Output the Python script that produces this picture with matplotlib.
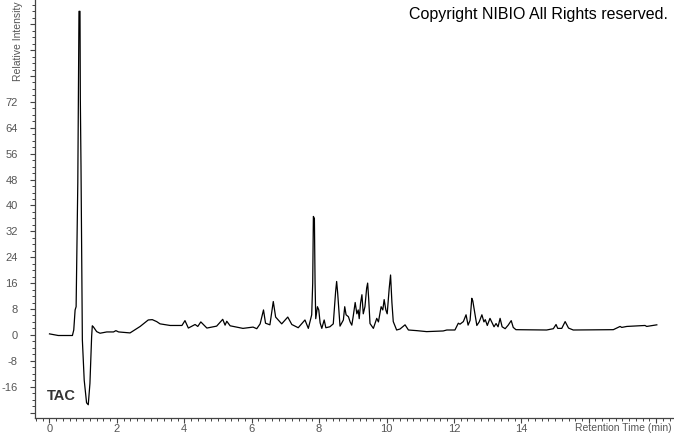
import matplotlib.pyplot as plt
from matplotlib.ticker import MultipleLocator, FixedLocator, FixedFormatter

# retention time (min) and relative intensity
rt = [0.00, 0.26, 0.68, 0.72, 0.76, 0.79, 0.84, 0.875, 0.905, 0.915, 0.935, 0.975,
      1.03, 1.10, 1.15, 1.20, 1.25, 1.27, 1.30, 1.40, 1.50, 1.70, 1.90, 1.97, 2.05,
      2.39, 2.69, 2.93, 3.05, 3.18, 3.28, 3.58, 3.93, 4.02, 4.12, 4.32, 4.40, 4.49,
      4.67, 4.96, 5.14, 5.21, 5.26, 5.36, 5.74, 6.04, 6.15, 6.25, 6.35, 6.41, 6.54,
      6.64, 6.71, 6.89, 7.07, 7.19, 7.38, 7.58, 7.68, 7.78, 7.81, 7.83, 7.86, 7.88,
      7.90, 7.95, 7.99, 8.03, 8.08, 8.15, 8.20, 8.32, 8.42, 8.49, 8.52, 8.55, 8.62,
      8.72, 8.76, 8.80, 8.87, 8.92, 8.97, 9.01, 9.07, 9.12, 9.16, 9.19, 9.23, 9.27,
      9.31, 9.36, 9.41, 9.44, 9.47, 9.51, 9.61, 9.71, 9.76, 9.84, 9.89, 9.93, 9.98,
      10.02, 10.08, 10.12, 10.16, 10.20, 10.30, 10.40, 10.55, 10.65, 10.90, 11.19,
      11.68, 11.79, 12.03, 12.13, 12.18, 12.28, 12.36, 12.42, 12.48, 12.53, 12.56,
      12.61, 12.68, 12.75, 12.83, 12.89, 12.93, 12.99, 13.07, 13.13, 13.19, 13.25,
      13.31, 13.37, 13.43, 13.52, 13.61, 13.70, 13.76, 13.84, 14.75, 14.95, 15.03,
      15.08, 15.20, 15.30, 15.40, 15.54, 16.73, 16.93, 16.98, 17.13, 17.67, 17.72,
      18.02]
intensity = [0.3, -0.2, -0.2, 1.5, 7.7, 8.7, 47, 100, 100, 73, 52, -1.5,
             -14, -21, -21.6, -15, -0.6, 2.8, 2.5, 1.0, 0.5, 0.9, 0.9, 1.3, 0.9,
             0.6, 2.6, 4.6, 4.7, 4.1, 3.4, 2.9, 2.9, 4.4, 2.1, 3.2, 2.6, 4.0,
             2.1, 2.7, 4.8, 3.0, 4.2, 2.8, 2.0, 2.4, 1.9, 3.4, 7.7, 3.6, 3.1,
             10.3, 5.5, 3.4, 5.5, 3.2, 2.2, 4.6, 2.0, 6.2, 16, 36.6, 36, 16,
             5, 8.7, 7.7, 3.7, 2.0, 4.6, 2.2, 2.5, 3.4, 13.4, 16.5, 13, 2.7,
             4.6, 8.7, 6.2, 5.6, 4.0, 3.0, 5.6, 10, 6.5, 7.7, 5, 9.8, 12.4,
             6.5, 8.7, 14.4, 16.0, 11.3, 3.5, 2.0, 5.1, 4.0, 8.7, 7.7, 10.9, 7.7,
             6.5, 14.4, 18.5, 10, 4.1, 1.5, 1.8, 3.1, 1.5, 1.3, 1.0,
             1.2, 1.5, 1.5, 3.6, 3.3, 4.1, 6.2, 3.0, 4.5, 11.3, 10.5,
             7.4, 2.9, 4.0, 6.2, 4.0, 4.7, 2.9, 5.1, 3.8, 2.5, 3.5,
             2.5, 5.1, 2.5, 1.9, 3.0, 4.4, 2.3, 1.6, 1.5, 1.9, 3.2,
             2.0, 2.0, 4.1, 2.1, 1.5, 1.6, 2.6, 2.3, 2.6, 2.9, 2.6,
             3.1]

x_labels = ['0', '2', '4', '6', '8', '10', '12', '14', '', '']
y_ticks = list(range(-24, 104, 8))
y_labels = [str(v) if -16 <= v <= 72 else '' for v in y_ticks]

plt.rcParams['font.family'] = ['Liberation Sans', 'DejaVu Sans']

fig = plt.figure(figsize=(6.74, 4.34), dpi=100)
fig.patch.set_facecolor('white')
ax = fig.add_axes([35 / 674, 16 / 434, 1 - 35 / 674, 418 / 434])

ax.plot(rt, intensity, color='black', lw=0.9)

ax.set_xlim(-0.43, 18.53)
ax.set_ylim(-25.7, 103.5)

# only left and bottom axis lines like the instrument software
for side in ['top', 'right']:
    ax.spines[side].set_visible(False)
for side in ['left', 'bottom']:
    ax.spines[side].set_color('#444444')
    ax.spines[side].set_linewidth(0.9)

ax.xaxis.set_major_locator(FixedLocator(list(range(0, 20, 2))))
ax.xaxis.set_major_formatter(FixedFormatter(x_labels))
ax.xaxis.set_minor_locator(MultipleLocator(0.2))
ax.yaxis.set_major_locator(FixedLocator(y_ticks))
ax.yaxis.set_major_formatter(FixedFormatter(y_labels))
ax.yaxis.set_minor_locator(MultipleLocator(2))

ax.tick_params(which='major', direction='out', length=3.5, width=0.8,
               color='#444444', labelsize=8, labelcolor='#555555')
ax.tick_params(axis='x', which='major', pad=1)
ax.tick_params(axis='y', which='major', pad=9)
ax.tick_params(which='minor', direction='out', length=2, width=0.7,
               color='#444444')

ax.text(-0.08, -19, 'TAC', fontsize=10.5, fontweight='bold', color='#333333',
        va='center', ha='left')

fig.text(668 / 674, 1 - 14 / 434, 'Copyright NIBIO All Rights reserved.',
         fontsize=11.5, color='black', ha='right', va='center')
fig.text(18 / 674, 1 - 1 / 434, 'Relative Intensity', rotation=90,
         fontsize=7.5, color='#555555', ha='center', va='top')
fig.text(672 / 674, 1 - 428 / 434, 'Retention Time (min)',
         fontsize=7.5, color='#555555', ha='right', va='center')

fig.savefig('out.png', dpi=100)
